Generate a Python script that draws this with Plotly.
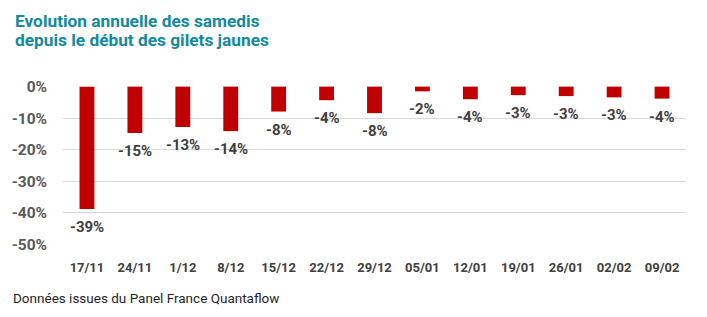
import plotly.graph_objects as go

categories = ["17/11", "24/11", "1/12", "8/12", "15/12", "22/12", "29/12",
              "05/01", "12/01", "19/01", "26/01", "02/02", "09/02"]
values = [-38.8, -14.7, -12.8, -14.1, -7.9, -4.3, -8.4, -1.5, -4.0, -2.7, -3.0, -3.4, -3.8]
labels = ["-39%", "-15%", "-13%", "-14%", "-8%", "-4%", "-8%", "-2%", "-4%", "-3%", "-3%", "-3%", "-4%"]
tick_vals = [0, -10, -20, -30, -40, -50]
tick_text = ["0%", "-10%", "-20%", "-30%", "-40%", "-50%"]

FONT = "Roboto"
fig = go.Figure()
fig.add_trace(go.Bar(x=categories, y=values, marker_color="#c00000",
                     marker_line_width=0, width=0.31, hoverinfo="skip"))

for c, v, t in zip(categories, values, labels):
    fig.add_annotation(x=c, y=v, text="<b>%s</b>" % t, showarrow=False,
                       yanchor="top", yshift=-7,
                       font=dict(family=FONT, size=15, color="#404040"))

for ty, line in [(1.409, "Evolution annuelle des samedis"),
                 (1.289, "depuis le début des gilets jaunes")]:
    fig.add_annotation(xref="paper", yref="paper", x=-0.081, y=ty,
                       xanchor="left", yanchor="middle", showarrow=False,
                       text="<b>%s</b>" % line,
                       font=dict(family=FONT, size=17.3, color="#138a9e"))
fig.add_annotation(xref="paper", yref="paper", x=-0.083, y=-0.331,
                   xanchor="left", yanchor="middle", showarrow=False,
                   text="Données issues du Panel France Quantaflow",
                   font=dict(family=FONT, size=13.5, color="#262626"))

fig.update_layout(
    width=707, height=317,
    margin=dict(l=58, r=21, t=86, b=72),
    paper_bgcolor="white", plot_bgcolor="white",
    showlegend=False,
    font=dict(family=FONT),
    xaxis=dict(showgrid=False, showline=False, ticks="",
               tickfont=dict(family=FONT, size=13, color="#404040", weight="bold"),
               ticklabelstandoff=13),
    yaxis=dict(range=[-50.2, 0.2], tickvals=tick_vals, ticktext=tick_text,
               showgrid=True, gridcolor="#d9d9d9", gridwidth=1,
               zeroline=False, showline=False, ticks="",
               tickfont=dict(family=FONT, size=15.5, color="#595959", weight="bold"),
               ticklabelstandoff=15),
)
fig.write_html("out.html")
